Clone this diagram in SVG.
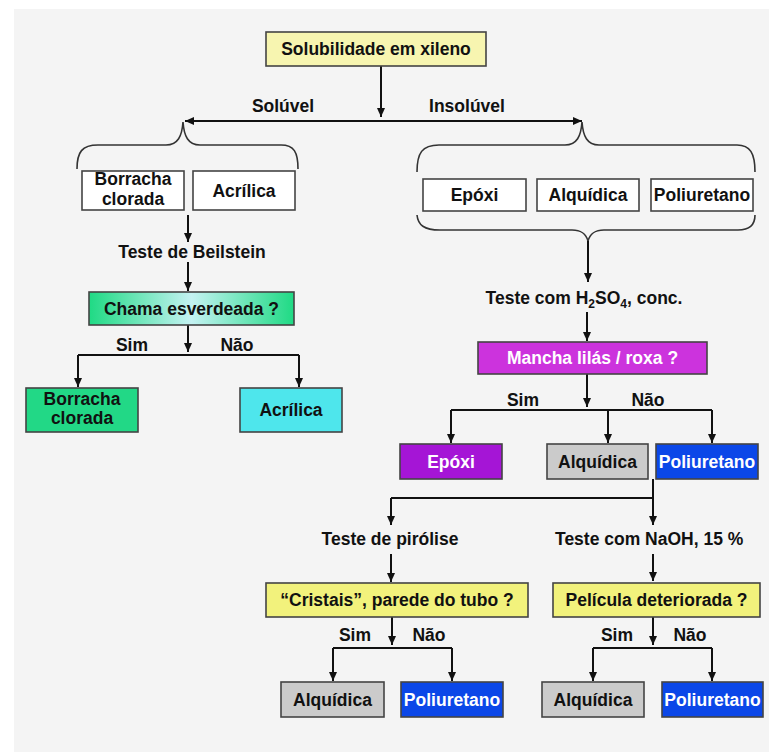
<svg xmlns="http://www.w3.org/2000/svg" width="769" height="752" viewBox="0 0 769 752">
<style>
.t{font-family:"Liberation Sans",Arial,sans-serif;font-weight:bold;font-size:17.5px;fill:#111;text-anchor:middle}
.w{fill:#fff}
.box{stroke:#444;stroke-width:1.6}
.ln{fill:none;stroke:#111;stroke-width:2}
.ar{marker-end:url(#ah)}
.br{fill:none;stroke:#333;stroke-width:1.6}
</style>
<defs>
<marker id="ah" markerUnits="userSpaceOnUse" markerWidth="9" markerHeight="8" refX="9" refY="4" orient="auto-start-reverse"><path d="M0,0 L9,4 L0,8 z" fill="#111"/></marker>
<linearGradient id="gch" x1="0" y1="0" x2="1" y2="0">
<stop offset="0" stop-color="#1fda84"/><stop offset="0.5" stop-color="#c4f2f2"/><stop offset="1" stop-color="#1fda84"/>
</linearGradient>
</defs>
<rect x="0" y="0" width="769" height="752" fill="#fff"/>
<rect x="14" y="9" width="755" height="743" fill="#f4f4f4"/>

<g id="connectors">
<path class="ln ar" d="M381,66 V117"/>
<path class="ln" d="M185,121 H582" marker-start="url(#ah)" marker-end="url(#ah)"/>
<path class="br" d="M77,169 C77,152 82,145 98,145 L166,145 C178,145 182,136 183,122 C184,136 188,145 200,145 L281,145 C294,145 298,152 298,169"/>
<path class="br" d="M417,172 C417,153 422,145 439,145 L565,145 C577,145 581,136 582,122 C583,136 587,145 599,145 L737,145 C750,145 755,153 755,172"/>
<path class="br" d="M417,215 C418,225 424,230 440,230 L572,230 C582,230 586,234 588,241 C590,234 594,230 604,230 L738,230 C750,230 755,225 755,215"/>
<path class="ln ar" d="M188,215 V242"/>
<path class="ln ar" d="M188,262 V291"/>
<path class="ln ar" d="M188,325 V352"/>
<path class="ln" d="M78,355 H299"/>
<path class="ln ar" d="M78,355 V387"/>
<path class="ln ar" d="M299,355 V387"/>
<path class="ln ar" d="M588,241 V282"/>
<path class="ln ar" d="M587,312 V341"/>
<path class="ln ar" d="M587,374 V407"/>
<path class="ln" d="M451,410 H712"/>
<path class="ln ar" d="M451,410 V443"/>
<path class="ln ar" d="M608,410 V443"/>
<path class="ln ar" d="M712,410 V443"/>
<path class="ln" d="M653,479 V498 M391,498 H653"/>
<path class="ln ar" d="M391,498 V525"/>
<path class="ln ar" d="M653,498 V525"/>
<path class="ln ar" d="M391,554 V582"/>
<path class="ln ar" d="M653,554 V581"/>
<path class="ln ar" d="M392,617 V645"/>
<path class="ln" d="M333,648 H452"/>
<path class="ln ar" d="M333,648 V681"/>
<path class="ln ar" d="M452,648 V681"/>
<path class="ln ar" d="M653,617 V645"/>
<path class="ln" d="M593,648 H712"/>
<path class="ln ar" d="M593,648 V681"/>
<path class="ln ar" d="M712,648 V681"/>
</g>

<g id="labels">
<text class="t" x="283" y="112">Solúvel</text>
<text class="t" x="467" y="112">Insolúvel</text>
<text class="t" x="192" y="258">Teste de Beilstein</text>
<text class="t" x="584" y="304">Teste com H<tspan font-size="12" dy="4">2</tspan><tspan dy="-4">SO</tspan><tspan font-size="12" dy="4">4</tspan><tspan dy="-4">, conc.</tspan></text>
<text class="t" x="132" y="351">Sim</text>
<text class="t" x="237" y="351">Não</text>
<text class="t" x="523" y="406">Sim</text>
<text class="t" x="648" y="406">Não</text>
<text class="t" x="390" y="545">Teste de pirólise</text>
<text class="t" x="555" y="545" style="text-anchor:start">Teste com NaOH, 15 %</text>
<text class="t" x="355" y="641">Sim</text>
<text class="t" x="429" y="641">Não</text>
<text class="t" x="617" y="641">Sim</text>
<text class="t" x="690" y="641">Não</text>
</g>

<g id="n-solubilidade"><rect class="box" x="266" y="32" width="220" height="34" fill="#f7f5b0"/><text class="t" x="376" y="55">Solubilidade em xileno</text></g>

<g id="n-borracha1"><rect class="box" x="82" y="171" width="102" height="39" fill="#fff"/><text class="t" x="133" y="185">Borracha</text><text class="t" x="133" y="205">clorada</text></g>
<g id="n-acrilica1"><rect class="box" x="193" y="171" width="102" height="39" fill="#fff"/><text class="t" x="244" y="197">Acrílica</text></g>

<g id="n-epoxi1"><rect class="box" x="423" y="179" width="103" height="32" fill="#fff"/><text class="t" x="474.5" y="201">Epóxi</text></g>
<g id="n-alquidica1"><rect class="box" x="537" y="179" width="102" height="32" fill="#fff"/><text class="t" x="588" y="201">Alquídica</text></g>
<g id="n-poliuretano1"><rect class="box" x="651" y="179" width="102" height="32" fill="#fff"/><text class="t" x="702" y="201">Poliuretano</text></g>

<g id="n-chama"><rect class="box" x="89" y="292" width="205" height="33" fill="url(#gch)"/><text class="t" x="191.5" y="314.5">Chama esverdeada ?</text></g>
<g id="n-borracha2"><rect class="box" x="26" y="388" width="112" height="44" fill="#22d886"/><text class="t" x="82" y="405">Borracha</text><text class="t" x="82" y="424">clorada</text></g>
<g id="n-acrilica2"><rect class="box" x="240" y="388" width="102" height="44" fill="#4ee6ec"/><text class="t" x="291" y="416">Acrílica</text></g>

<g id="n-mancha"><rect class="box" x="478" y="342" width="229" height="32" fill="#cc33dd"/><text class="t w" x="592.5" y="364">Mancha lilás / roxa ?</text></g>
<g id="n-epoxi2"><rect class="box" x="400" y="444" width="102" height="35" fill="#a515d6"/><text class="t w" x="451" y="468">Epóxi</text></g>
<g id="n-alquidica2"><rect class="box" x="547" y="444" width="101" height="35" fill="#cbcbcb"/><text class="t" x="597.5" y="468">Alquídica</text></g>
<g id="n-poliuretano2"><rect class="box" x="656" y="444" width="102" height="35" fill="#0b47e8"/><text class="t w" x="707" y="468">Poliuretano</text></g>

<g id="n-cristais"><rect class="box" x="266" y="583" width="262" height="34" fill="#f2f27c"/><text class="t" x="397" y="606">“Cristais”, parede do tubo ?</text></g>
<g id="n-pelicula"><rect class="box" x="553" y="583" width="207" height="34" fill="#f2f27c"/><text class="t" x="656.5" y="606">Película deteriorada ?</text></g>

<g id="n-alquidica3"><rect class="box" x="281" y="682" width="103" height="35" fill="#cbcbcb"/><text class="t" x="332.5" y="706">Alquídica</text></g>
<g id="n-poliuretano3"><rect class="box" x="401" y="682" width="102" height="35" fill="#0b47e8"/><text class="t w" x="452" y="706">Poliuretano</text></g>
<g id="n-alquidica4"><rect class="box" x="542" y="682" width="102" height="35" fill="#cbcbcb"/><text class="t" x="593" y="706">Alquídica</text></g>
<g id="n-poliuretano4"><rect class="box" x="662" y="682" width="101" height="35" fill="#0b47e8"/><text class="t w" x="712.5" y="706">Poliuretano</text></g>
</svg>
